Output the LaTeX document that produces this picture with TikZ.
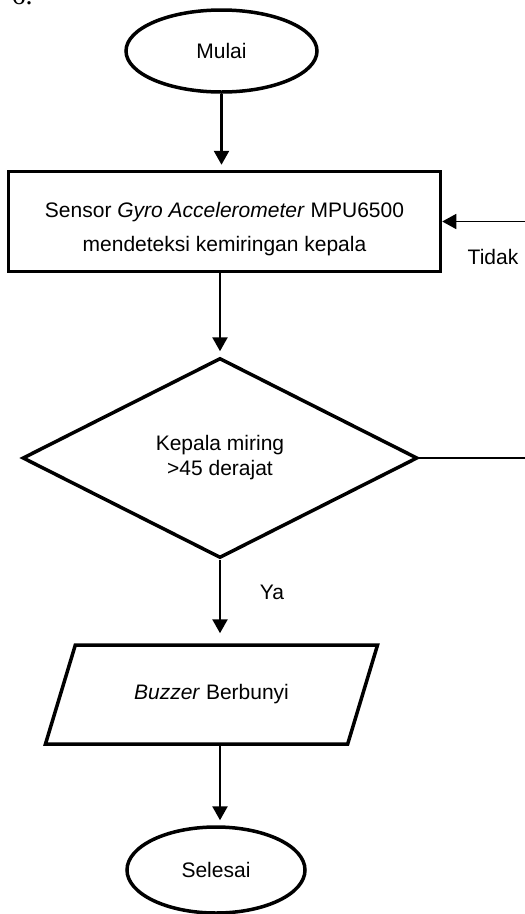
\documentclass[tikz,border=0pt]{standalone}
\usepackage{fontspec}
\setmainfont{Liberation Sans}
\newfontfamily\numfont{Liberation Serif}
\usetikzlibrary{shapes.geometric,arrows.meta}

\begin{document}
\begin{tikzpicture}[x=1pt,y=-1pt,font=\fontsize{21}{25}\selectfont,
  terminal/.style={ellipse,draw,line width=3.5pt,inner sep=0pt},
  procbox/.style={rectangle,draw,line width=3.5pt,align=center,
    minimum width=432pt,minimum height=100pt},
  decide/.style={diamond,draw,line width=3.5pt,align=center,inner sep=0pt,
    minimum width=395pt,minimum height=200pt},
  iobox/.style={trapezium,draw,line width=3.5pt,trapezium left angle=56,
    trapezium right angle=124,trapezium stretches=true,
    minimum width=333pt,minimum height=99pt},
  arr/.style={line width=2.5pt,-{Triangle[width=15pt,length=14pt]},shorten >=5pt},
  backline/.style={line width=1.5pt}]
  \useasboundingbox (0,0) rectangle (525,914);

  \node[font=\numfont\fontsize{28}{30}\selectfont,anchor=base west] (num) at (8,4) {6.};

  \node[terminal,minimum width=191pt,minimum height=82pt] (start) at (221.5,51) {Mulai};
  \node[procbox] (sense) at (224.5,221.5)
    {\rule{0pt}{29.5pt}Sensor \textit{Gyro Accelerometer} MPU6500\\[9pt]mendeteksi kemiringan kepala};
  \node[decide] (tilt) at (220,458) {Kepala miring\\>45 derajat};
  \node[iobox] (buzz) at (211.5,694.5) {\textit{Buzzer} Berbunyi};
  \node[terminal,minimum width=178pt,minimum height=86pt] (stop) at (216,870) {Selesai};

  \node (ya) at (272,592) {Ya};
  \node (tidak) at (493,257) {Tidak};

  \draw[arr] (start.south) -- (start.south |- sense.north);
  \draw[arr] (sense.south -| tilt.north) -- (tilt.north);
  \draw[arr,shorten >=10pt] (tilt.south) -- (tilt.south |- buzz.north);
  \draw[arr] (buzz.south -| tilt.south) -- (stop.north -| tilt.south);
  \draw[backline,-{Triangle[width=15pt,length=14pt]}] (tilt.east) -- ++(112,0) |- (sense.east);
\end{tikzpicture}
\end{document}
